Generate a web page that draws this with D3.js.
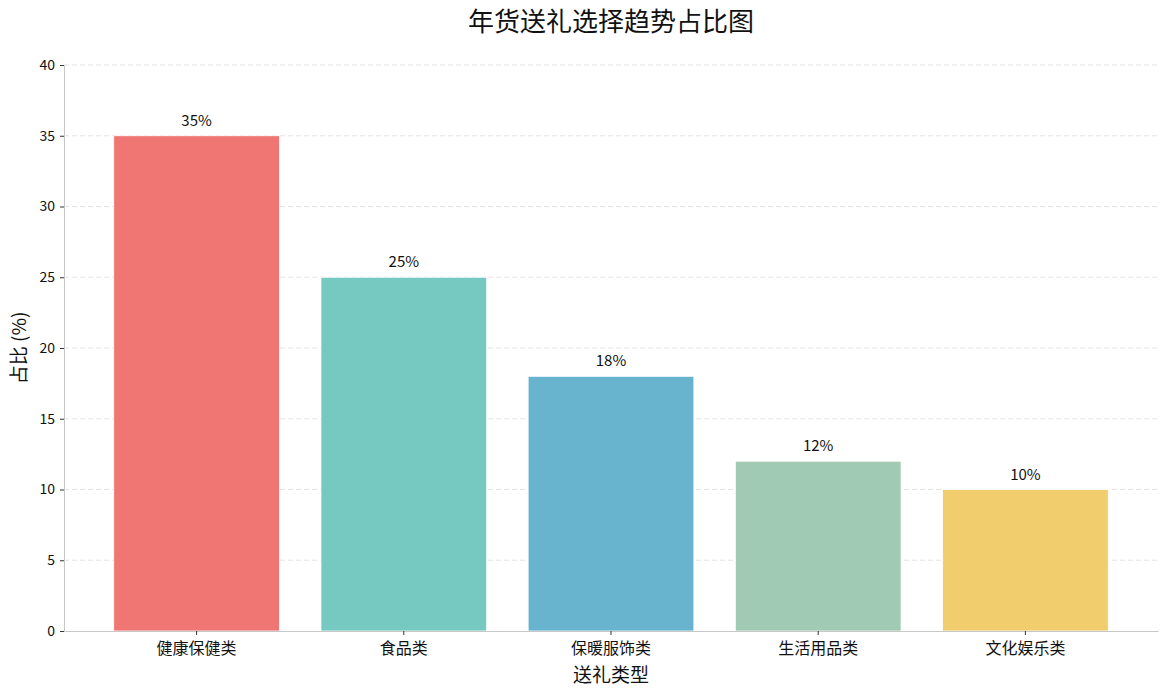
<!DOCTYPE html>
<html>
<head>
<meta charset="utf-8">
<script src="https://cdn.jsdelivr.net/npm/d3@7"></script>
<style>
  body { margin: 0; background: #fff; }
  text { font-family: "Noto Sans CJK SC", "DejaVu Sans", sans-serif; }
</style>
</head>
<body>
<div id="chart-area"></div>
<script>
// data
var categories = ["健康保健类", "食品类", "保暖服饰类", "生活用品类", "文化娱乐类"];
var shares = [35, 25, 18, 12, 10];
var colors = ["#ef7672", "#76c9c1", "#68b3ce", "#a0cab3", "#f2cd6e"];
var yTicks = [0, 5, 10, 15, 20, 25, 30, 35, 40];

var W = 1170, H = 689;
var margin = {left: 64, right: 12, top: 65, bottom: 58};

var svg = d3.select("#chart-area").append("svg")
    .attr("width", W)
    .attr("height", H);

var x = d3.scaleBand()
    .domain(categories)
    .range([margin.left, W - margin.right])
    .paddingInner(0.2)
    .paddingOuter(0.24);

var y = d3.scaleLinear()
    .domain([0, 40])
    .range([H - margin.bottom, margin.top]);

// grid
svg.append("g").selectAll("line")
    .data(yTicks.filter(d => d > 0))
    .enter().append("line")
    .attr("x1", margin.left)
    .attr("x2", W - margin.right)
    .attr("y1", d => y(d))
    .attr("y2", d => y(d))
    .attr("stroke", "#e3e3e3")
    .attr("stroke-dasharray", "5,3")
    .attr("stroke-width", 1);

// bars
svg.append("g").selectAll("rect")
    .data(shares)
    .enter().append("rect")
    .attr("x", (d, i) => x(categories[i]))
    .attr("y", d => y(d))
    .attr("width", x.bandwidth())
    .attr("height", d => y(0) - y(d))
    .attr("fill", (d, i) => colors[i])
    .attr("stroke", "#fff")
    .attr("stroke-width", 0.8);

// value labels
svg.append("g").selectAll("text")
    .data(shares)
    .enter().append("text")
    .attr("x", (d, i) => x(categories[i]) + x.bandwidth() / 2)
    .attr("y", d => y(d) - 10)
    .attr("text-anchor", "middle")
    .attr("font-size", 15)
    .attr("fill", "#111")
    .text(d => d + "%");

// axes
var yAxis = svg.append("g")
    .attr("transform", "translate(" + margin.left + ",0)")
    .call(d3.axisLeft(y).tickValues(yTicks).tickSize(4).tickPadding(5));
yAxis.select(".domain").attr("stroke", "#c8c8c8");
yAxis.selectAll(".tick line").attr("stroke", "#333");
yAxis.selectAll(".tick text").attr("font-size", 14).attr("fill", "#111");

var xAxis = svg.append("g")
    .attr("transform", "translate(0," + y(0) + ")")
    .call(d3.axisBottom(x).tickSize(4).tickPadding(8).tickSizeOuter(0));
xAxis.select(".domain").attr("stroke", "#c8c8c8");
xAxis.selectAll(".tick line").attr("stroke", "#333");
xAxis.selectAll(".tick text").attr("font-size", 16).attr("fill", "#111");

// titles
svg.append("text")
    .attr("x", (margin.left + W - margin.right) / 2)
    .attr("y", 31)
    .attr("text-anchor", "middle")
    .attr("font-size", 26)
    .attr("fill", "#111")
    .text("年货送礼选择趋势占比图");

svg.append("text")
    .attr("x", (margin.left + W - margin.right) / 2)
    .attr("y", 682)
    .attr("text-anchor", "middle")
    .attr("font-size", 19)
    .attr("fill", "#111")
    .text("送礼类型");

svg.append("text")
    .attr("transform", "translate(26," + ((margin.top + H - margin.bottom) / 2) + ") rotate(-90)")
    .attr("text-anchor", "middle")
    .attr("font-size", 19)
    .attr("fill", "#111")
    .text("占比 (%)");
</script>
</body>
</html>
